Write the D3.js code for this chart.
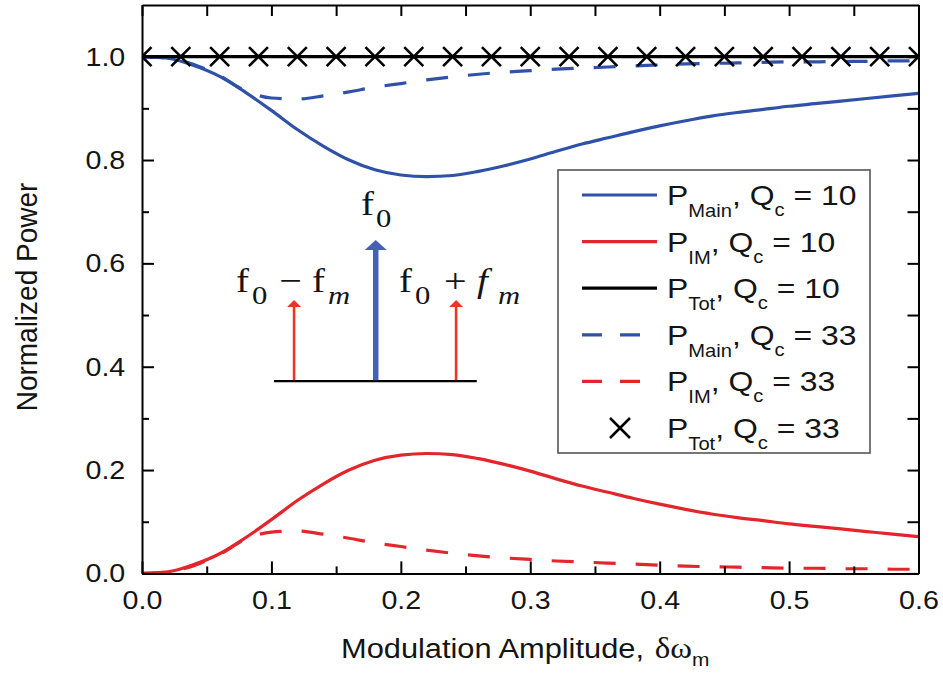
<!DOCTYPE html>
<html>
<head>
<meta charset="utf-8">
<script src="https://cdn.jsdelivr.net/npm/d3@7"></script>
<style>
  html, body { margin: 0; padding: 0; background: #fff; }
  svg { display: block; }
</style>
</head>
<body>
<svg id="chart" width="943" height="675"></svg>
<script>
// Modulation amplitude samples (x values shared by all curves)
const amplitude = [0.00, 0.02, 0.04, 0.06, 0.08, 0.10, 0.12, 0.14, 0.16, 0.18,
                   0.20, 0.22, 0.24, 0.26, 0.28, 0.30, 0.32, 0.34, 0.36, 0.38,
                   0.40, 0.42, 0.44, 0.46, 0.48, 0.50, 0.52, 0.54, 0.56, 0.58, 0.60];

// Qc = 10
const mainQ10 = [1.000, 0.997, 0.983, 0.962, 0.931, 0.896, 0.859, 0.827, 0.800, 0.781,
                 0.771, 0.768, 0.770, 0.778, 0.789, 0.802, 0.817, 0.831, 0.843, 0.855,
                 0.866, 0.876, 0.885, 0.892, 0.898, 0.904, 0.909, 0.914, 0.919, 0.924, 0.929];
const imQ10   = [0.000, 0.003, 0.017, 0.038, 0.069, 0.104, 0.141, 0.173, 0.200, 0.219,
                 0.229, 0.232, 0.230, 0.222, 0.211, 0.198, 0.183, 0.169, 0.157, 0.145,
                 0.134, 0.124, 0.115, 0.108, 0.102, 0.096, 0.091, 0.086, 0.081, 0.076, 0.071];
const totQ10  = [1, 1, 1, 1, 1, 1, 1, 1, 1, 1, 1, 1, 1, 1, 1, 1,
                 1, 1, 1, 1, 1, 1, 1, 1, 1, 1, 1, 1, 1, 1, 1];

// Qc = 33
const mainQ33 = [1.000, 0.997, 0.985, 0.963, 0.934, 0.920, 0.918, 0.924, 0.932, 0.941,
                 0.948, 0.955, 0.961, 0.966, 0.970, 0.973, 0.976, 0.978, 0.980, 0.982,
                 0.984, 0.986, 0.987, 0.988, 0.989, 0.990, 0.990, 0.991, 0.991, 0.992, 0.992];
const imQ33   = [0.000, 0.003, 0.015, 0.037, 0.066, 0.080, 0.082, 0.076, 0.068, 0.059,
                 0.052, 0.045, 0.039, 0.034, 0.030, 0.027, 0.024, 0.022, 0.020, 0.018,
                 0.016, 0.014, 0.013, 0.012, 0.011, 0.010, 0.010, 0.009, 0.009, 0.008, 0.008];
// Total power, Qc = 33 (marker series)
const totQ33Amp = [0.00, 0.03, 0.06, 0.09, 0.12, 0.15, 0.18, 0.21, 0.24, 0.27, 0.30,
                   0.33, 0.36, 0.39, 0.42, 0.45, 0.48, 0.51, 0.54, 0.57, 0.60];
const totQ33    = [1, 1, 1, 1, 1, 1, 1, 1, 1, 1, 1, 1, 1, 1, 1, 1, 1, 1, 1, 1, 1];

// Axis ticks
const xMajorTicks = [0.0, 0.1, 0.2, 0.3, 0.4, 0.5, 0.6];
const xMinorTicks = [0.05, 0.15, 0.25, 0.35, 0.45, 0.55];
const yMajorTicks = [0.0, 0.2, 0.4, 0.6, 0.8, 1.0];
const yMinorTicks = [0.1, 0.3, 0.5, 0.7, 0.9];

const BLUE = "#2f52a8";
const RED = "#e3262b";
const INK = "#141414";
const SANS = "'Liberation Sans', Arial, Helvetica, sans-serif";
const SERIF = "'Liberation Serif', 'Times New Roman', serif";
const SX = 1.08;   // slight horizontal widening of the lettering

const svg = d3.select("#chart");

const x = d3.scaleLinear().domain([0, 0.6]).range([142, 918.5]);
const y = d3.scaleLinear().domain([0, 1.1]).range([573.4, 5]);

svg.append("defs").append("clipPath").attr("id", "plotClip")
  .append("rect")
  .attr("x", x(0)).attr("y", y(1.1))
  .attr("width", x(0.6) - x(0)).attr("height", y(0) - y(1.1));

const plot = svg.append("g").attr("clip-path", "url(#plotClip)");

const lineOf = vals => d3.line()
  .x((d, i) => x(amplitude[i]))
  .y(d => y(d))
  .curve(d3.curveMonotoneX)(vals);

const DASH = "22,20";

// Curves
plot.append("path").attr("d", lineOf(imQ33))
  .attr("fill", "none").attr("stroke", RED).attr("stroke-width", 3.2)
  .attr("stroke-dasharray", DASH);
plot.append("path").attr("d", lineOf(imQ10))
  .attr("fill", "none").attr("stroke", RED).attr("stroke-width", 3.2);
plot.append("path").attr("d", lineOf(mainQ33))
  .attr("fill", "none").attr("stroke", BLUE).attr("stroke-width", 3.2)
  .attr("stroke-dasharray", DASH);
plot.append("path").attr("d", lineOf(mainQ10))
  .attr("fill", "none").attr("stroke", BLUE).attr("stroke-width", 3.2);
plot.append("path").attr("d", lineOf(totQ10))
  .attr("fill", "none").attr("stroke", "#000").attr("stroke-width", 3.2);

const xMarker = s => `M${-s},${-s}L${s},${s}M${-s},${s}L${s},${-s}`;
plot.selectAll("path.tot33").data(totQ33).join("path")
  .attr("class", "tot33")
  .attr("transform", (d, i) => `translate(${x(totQ33Amp[i])},${y(d)})`)
  .attr("d", xMarker(9.5))
  .attr("fill", "none").attr("stroke", "#000").attr("stroke-width", 2.6);

// Axes (ticks point inward)
function styleAxis(g) {
  g.select(".domain").attr("stroke", "#000").attr("stroke-width", 2);
  g.selectAll(".tick line").attr("stroke", "#000").attr("stroke-width", 2);
}

const bottom = svg.append("g").attr("transform", `translate(0,${y(0)})`)
  .call(d3.axisBottom(x).tickValues(xMajorTicks).tickSizeInner(-12).tickSizeOuter(0)
    .tickPadding(16.5).tickFormat(d3.format(".1f")));
svg.append("g").attr("transform", `translate(0,${y(0)})`)
  .call(d3.axisBottom(x).tickValues(xMinorTicks).tickSize(-7).tickFormat(""))
  .call(g => g.select(".domain").remove())
  .call(styleAxis);
bottom.call(styleAxis);
bottom.selectAll(".tick text")
  .attr("font-family", SANS).attr("font-size", 26.5).attr("fill", INK)
  .attr("transform", `scale(${SX},1)`);

const left = svg.append("g").attr("transform", `translate(${x(0)},0)`)
  .call(d3.axisLeft(y).tickValues(yMajorTicks).tickSizeInner(-12).tickSizeOuter(0)
    .tickPadding(15.5).tickFormat(d3.format(".1f")));
svg.append("g").attr("transform", `translate(${x(0)},0)`)
  .call(d3.axisLeft(y).tickValues(yMinorTicks).tickSize(-7).tickFormat(""))
  .call(g => g.select(".domain").remove())
  .call(styleAxis);
left.call(styleAxis);
left.selectAll(".tick text")
  .attr("font-family", SANS).attr("font-size", 26.5).attr("fill", INK)
  .attr("transform", `scale(${SX},1)`);

svg.append("g").attr("transform", `translate(0,${y(1.1)})`)
  .call(d3.axisTop(x).tickValues(xMajorTicks.concat(xMinorTicks)).tickSizeInner(-11)
    .tickSizeOuter(0).tickFormat(""))
  .call(styleAxis);
svg.append("g").attr("transform", `translate(${x(0.6)},0)`)
  .call(d3.axisRight(y).tickValues(yMajorTicks.concat(yMinorTicks)).tickSizeInner(-11)
    .tickSizeOuter(0).tickFormat(""))
  .call(styleAxis);

// Axis titles
const xTitle = svg.append("text")
  .attr("transform", `translate(341,658) scale(1.1,1)`)
  .attr("font-family", SANS).attr("font-size", 28).attr("fill", INK)
  .attr("xml:space", "preserve");
xTitle.append("tspan").text("Modulation Amplitude, ");
xTitle.append("tspan").attr("font-family", SERIF).attr("font-size", 30).attr("dx", 2).text("δω");
xTitle.append("tspan").attr("font-size", 19).attr("dy", 8).text("m");

svg.append("text")
  .attr("transform", `translate(37,297) scale(${SX},1) rotate(-90)`)
  .attr("text-anchor", "middle")
  .attr("font-family", SANS).attr("font-size", 28).attr("fill", INK)
  .text("Normalized Power");

// Legend
const legendItems = [
  { sub: "Main", q: "10", color: BLUE, type: "solid" },
  { sub: "IM",   q: "10", color: RED,  type: "solid" },
  { sub: "Tot",  q: "10", color: "#000", type: "solid" },
  { sub: "Main", q: "33", color: BLUE, type: "dash" },
  { sub: "IM",   q: "33", color: RED,  type: "dash" },
  { sub: "Tot",  q: "33", color: "#000", type: "marker" }
];
const legend = svg.append("g");
legend.append("rect")
  .attr("x", 558).attr("y", 170).attr("width", 312).attr("height", 283)
  .attr("fill", "#fff").attr("stroke", "#555").attr("stroke-width", 1.6);

legendItems.forEach((it, i) => {
  const cy = 195 + i * 46.6;
  if (it.type === "marker") {
    legend.append("path").attr("transform", `translate(620,${cy})`)
      .attr("d", xMarker(10)).attr("fill", "none")
      .attr("stroke", "#000").attr("stroke-width", 2.6);
  } else {
    legend.append("line")
      .attr("x1", 582).attr("x2", 657).attr("y1", cy).attr("y2", cy)
      .attr("stroke", it.color).attr("stroke-width", 3.2)
      .attr("stroke-dasharray", it.type === "dash" ? "20,18" : null);
  }
  const t = legend.append("text")
    .attr("transform", `translate(667,${cy + 10}) scale(1.12,1)`)
    .attr("font-family", SANS).attr("font-size", 28.5).attr("fill", INK)
    .attr("xml:space", "preserve");
  t.append("tspan").text("P");
  t.append("tspan").attr("font-size", 18).attr("dy", 12).text(it.sub);
  t.append("tspan").attr("dy", -12).text(", Q");
  t.append("tspan").attr("font-size", 18).attr("dy", 11).text("c");
  t.append("tspan").attr("dy", -11).text(" = " + it.q);
});

// Inset: spectrum sketch with carrier and two sidebands
const inset = svg.append("g");
const baseV = 0.372;
inset.append("line")
  .attr("x1", x(0.102)).attr("x2", x(0.2587)).attr("y1", y(baseV)).attr("y2", y(baseV))
  .attr("stroke", "#000").attr("stroke-width", 2.2);

function arrow(xv, tipV, color, shaftW, headW, headH) {
  const px = x(xv), tip = y(tipV), base = y(baseV);
  inset.append("line")
    .attr("x1", px).attr("x2", px).attr("y1", base - 1).attr("y2", tip + headH - 1)
    .attr("stroke", color).attr("stroke-width", shaftW);
  inset.append("path")
    .attr("d", `M${px},${tip}L${px + headW / 2},${tip + headH}L${px - headW / 2},${tip + headH}Z`)
    .attr("fill", color);
}
arrow(0.1806, 0.645, "#4560b5", 5.5, 22, 10);
arrow(0.1175, 0.529, "#f0322b", 2.6, 14, 7);
arrow(0.2427, 0.529, "#f0322b", 2.6, 14, 7);

// Frequency labels, each glyph group placed on its own
function glyph(px, py, txt, size, italic) {
  inset.append("text")
    .attr("transform", `translate(${px},${py}) scale(1.18,1)`)
    .attr("font-family", SERIF).attr("font-size", size).attr("fill", INK)
    .attr("font-style", italic ? "italic" : null)
    .text(txt);
}
const FS = 33, SS = 26;
// carrier
glyph(361, 215, "f", FS); glyph(376, 227, "0", SS);
// lower sideband
glyph(236, 292, "f", FS); glyph(252, 304, "0", SS);
glyph(279, 292, "−", 34);
glyph(312, 292, "f", FS); glyph(328, 304, "m", SS, true);
// upper sideband
glyph(399, 292, "f", FS); glyph(415, 304, "0", SS);
glyph(444, 292, "+", 34);
glyph(477, 292, "f", FS, true); glyph(498, 304, "m", SS, true);
</script>
</body>
</html>
